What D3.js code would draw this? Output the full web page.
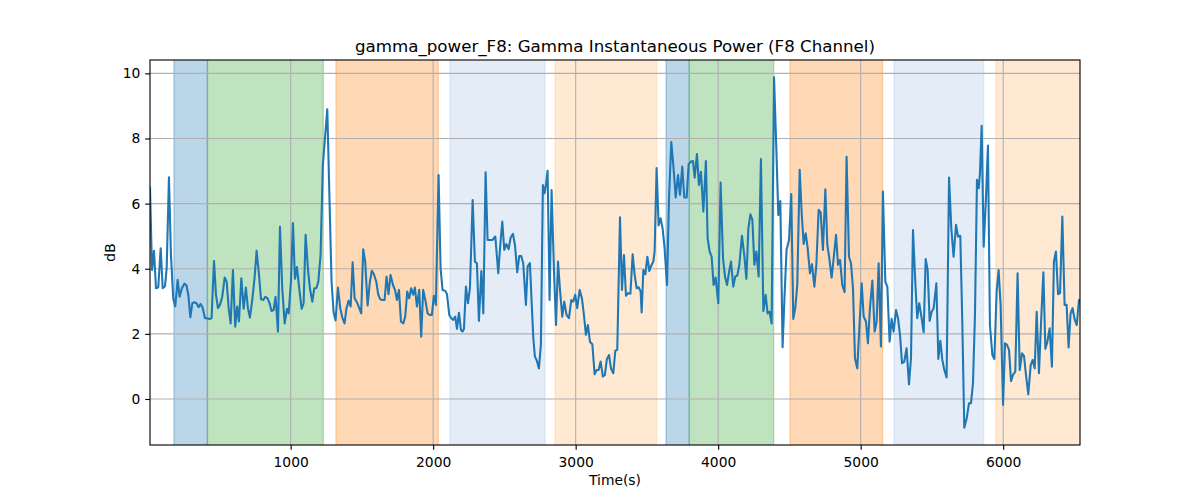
<!DOCTYPE html>
<html><head><meta charset="utf-8">
<script src="https://cdn.jsdelivr.net/npm/d3@7"></script>
<style>body{margin:0;background:#fff} text{font-family:"DejaVu Sans",sans-serif}</style>
</head><body><svg id="c" width="1200" height="500"></svg>
<script>
const times=[13,27,41,55,71,88,102,118,130,146,160,176,190,207,221,237,254,268,282,296,310,324,340,354,368,382,399,413,429,445,462,476,490,504,520,537,551,565,579,595,611,625,637,654,670,686,700,714,731,747,761,778,792,808,822,838,852,866,880,894,911,925,941,958,974,986,1002,1016,1030,1044,1060,1077,1091,1105,1121,
1135,1152,1166,1180,1194,1210,1226,1240,1257,1273,1287,1301,1315,1332,1348,1362,1378,1392,1407,1421,1435,1449,1463,1479,1495,1509,1523,1540,1556,1570,1584,1601,1615,1629,1643,1659,1673,1687,1701,1718,1732,1746,1760,1774,1790,1804,1818,1832,1846,1860,1872,1886,1902,1916,1930,1947,1961,1977,1991,2005,2019,2038,2052,2066,2085,2097,2113,2127,2141,2155,2167,2181,2195,2206,
2216,2230,2244,2258,2277,2293,2307,2321,2338,2352,2368,2382,2399,2415,2436,2457,2471,2485,2499,2513,2529,2544,2560,2574,2590,2604,2618,2632,2651,2663,2679,2693,2703,2714,2728,2742,2756,2770,2782,2791,2803,2817,2831,2848,2862,2876,2890,2906,2920,2936,2953,2969,2983,2997,3011,3028,3044,3058,3072,3086,3100,3117,3133,3147,3161,3175,3191,3205,3219,3234,3248,3264,3278,3292,
3311,3325,3339,3353,3367,3384,3400,3414,3428,3442,3456,3463,3475,3489,3503,3517,3531,3545,3554,3568,3582,3596,3610,3624,3641,3655,3671,3685,3702,3718,3732,3748,3762,3779,3793,3809,3823,3835,3851,3865,3879,3896,3914,3926,3940,3954,3968,3982,4001,4017,4034,4048,4062,4076,4090,4106,4120,4134,4148,4167,4183,4198,4212,4226,4240,4254,4268,4284,4300,4317,4333,4347,4361,4375,4392,4408,4422,4436,
4452,4466,4480,4497,4513,4527,4541,4555,4572,4586,4600,4614,4628,4644,4658,4675,4689,4705,4719,4735,4752,4766,4780,4796,4810,4827,4841,4855,4871,4887,4901,4918,4932,4946,4960,4976,4993,5007,5021,5037,5051,5065,5082,5098,5112,5126,5142,5156,5173,5187,5203,5217,5231,5248,5262,5276,5290,5306,5322,5339,5353,5367,5383,5397,5411,5428,5442,5456,5470,5484,5498,5512,5531,5545,5559,5573,5587,5603,
5620,5636,5652,5669,5683,5699,5713,5727,5744,5760,5774,5788,5802,5816,5828,5837,5849,5863,5879,5893,5907,5924,5938,5954,5968,5982,5999,6013,6027,6041,6055,6069,6085,6101,6116,6132,6146,6160,6176,6193,6207,6221,6235,6251,6267,6282,6296,6310,6326,6342,6356,6370,6385,6399,6415,6431,6445,6459,6473,6487,6501,6516,6532,6539];
const values=[6.5,3.96,4.55,3.40,3.43,4.63,3.40,3.46,4.01,6.81,4.42,3.09,2.84,3.66,3.14,3.40,3.54,3.50,3.20,2.51,2.94,2.97,2.94,2.82,2.92,2.81,2.48,2.48,2.46,2.48,4.24,3.20,2.79,2.89,3.14,3.73,3.60,2.79,2.32,3.96,2.22,2.84,2.38,3.71,2.77,3.42,2.79,2.50,3.06,3.73,4.55,3.81,3.06,3.04,3.14,3.09,2.94,2.70,2.73,3.14,2.07,5.29,3.40,2.32,2.77,2.63,3.60,5.40,3.69,4.05,3.40,2.77,2.94,5.04,4.01,
3.40,2.99,3.40,3.40,3.60,4.42,7.19,7.96,8.90,6.06,3.60,2.68,2.41,3.42,2.79,2.51,2.32,2.79,3.02,2.84,4.20,3.09,2.99,2.82,2.63,4.60,4.22,2.87,3.60,3.94,3.83,3.60,3.20,3.06,3.04,3.04,3.76,3.22,3.81,3.50,3.35,3.04,3.35,2.38,2.32,2.53,3.30,3.09,3.40,3.20,3.42,2.84,3.35,1.91,3.35,2.99,2.63,2.58,2.58,3.17,2.89,6.88,4.01,3.35,3.32,3.22,2.58,2.48,2.43,2.53,2.15,2.65,2.12,2.07,
2.15,3.45,2.94,3.40,6.11,4.22,4.17,2.40,3.93,2.63,6.96,4.88,4.88,4.88,4.99,3.86,4.73,5.45,4.58,4.76,4.60,4.96,5.07,4.73,3.89,4.39,4.39,4.17,2.89,4.07,4.17,2.79,1.86,1.30,1.17,0.94,1.66,6.57,6.32,6.57,7.01,3.04,6.42,3.91,2.27,4.22,3.35,2.53,2.99,2.58,2.48,3.04,2.99,3.20,2.79,3.35,3.09,2.58,1.97,2.27,1.76,1.68,0.76,0.89,0.89,1.15,0.69,0.74,1.23,1.35,0.94,0.79,1.48,1.51,
5.58,3.35,4.42,3.17,3.25,3.23,4.44,3.81,3.40,3.43,3.30,2.66,3.96,3.83,4.37,3.93,4.10,4.22,4.53,7.09,5.33,5.55,5.24,4.63,3.50,6.16,7.89,7.19,6.19,6.88,6.27,7.14,6.19,6.19,7.21,7.29,7.31,6.80,7.52,6.57,6.98,5.76,7.31,4.94,4.53,4.37,3.50,3.73,2.94,6.65,4.32,3.76,3.50,3.89,4.22,3.45,3.76,3.79,4.10,5.01,4.42,3.69,5.24,5.67,5.50,4.12,4.53,3.76,7.37,2.70,3.20,2.63,2.68,2.32,9.88,7.70,5.65,6.08,
1.59,3.20,4.58,4.88,6.29,2.46,2.79,3.50,7.04,5.70,4.76,5.09,4.63,3.86,4.14,3.45,4.12,5.81,5.73,4.58,6.44,4.73,4.32,3.73,4.30,5.04,4.12,4.27,3.50,3.28,7.44,4.37,4.17,3.40,1.25,0.94,2.38,3.55,2.53,2.38,1.71,2.79,3.64,2.07,2.38,4.17,1.61,6.37,3.60,3.45,1.76,2.46,2.07,2.73,2.48,1.97,1.10,1.15,1.56,0.45,1.25,5.19,3.60,2.48,2.94,2.48,2.05,4.30,3.96,2.40,2.68,2.79,3.55,1.23,1.79,1.20,0.89,0.66,
6.80,5.24,4.37,5.35,4.99,5.01,2.38,-0.88,-0.59,-0.13,-0.13,0.48,2.58,6.73,6.47,6.93,8.39,4.68,6.16,7.78,2.27,1.35,1.23,3.30,3.96,2.89,-0.18,1.71,1.66,1.51,0.55,0.74,0.84,3.86,0.89,1.40,1.32,0.74,0.14,1.04,1.20,0.94,2.68,0.79,2.48,3.89,1.54,1.76,2.17,0.99,4.22,4.53,3.22,3.25,5.60,2.89,2.89,1.58,2.63,2.79,2.45,2.27,3.04,3.04];

const bandStarts=[181,416,1318,2118,2855,3634,3797,4504,5234,5949];
const bandEnds=[416,1229,2036,2785,3568,3797,4389,5154,5863,6600];
const bandKinds=["blue","green","orange","lightblue","peach","blue","green","orange","lightblue","peach"];
const xTicks=[1000,2000,3000,4000,5000,6000];
const yTicks=[0,2,4,6,8,10];
const xDomain=[13,6539];
const yDomain=[-1.413,10.41];

const kindStyle={
  blue:{c:"#1f77b4",a:0.3}, green:{c:"#2ca02c",a:0.3}, orange:{c:"#ff7f0e",a:0.3},
  lightblue:{c:"#aec7e8",a:0.33}, peach:{c:"#ffbb78",a:0.33}
};

const L=150,R=1080,T=60,B=445;
const svg=d3.select("#c");
const x=d3.scaleLinear().domain(xDomain).range([L,R]);
const y=d3.scaleLinear().domain(yDomain).range([B,T]);
const pt=100/72;

svg.append("defs").append("clipPath").attr("id","clip")
  .append("rect").attr("x",L).attr("y",T).attr("width",R-L).attr("height",B-T);

const plot=svg.append("g").attr("clip-path","url(#clip)");
const bands=d3.range(bandStarts.length).map(i=>({s:bandStarts[i],e:bandEnds[i],k:bandKinds[i]}));
plot.selectAll("rect.band").data(bands).join("rect").attr("class","band")
  .attr("x",d=>x(d.s)).attr("width",d=>x(d.e)-x(d.s))
  .attr("y",T-5).attr("height",B-T+10)
  .attr("fill",d=>kindStyle[d.k].c).attr("fill-opacity",d=>kindStyle[d.k].a)
  .attr("stroke",d=>kindStyle[d.k].c).attr("stroke-opacity",d=>kindStyle[d.k].a).attr("stroke-width",pt);

// grid
plot.selectAll("line.gx").data(xTicks).join("line")
  .attr("x1",d=>x(d)).attr("x2",d=>x(d)).attr("y1",T).attr("y2",B)
  .attr("stroke","#b0b0b0").attr("stroke-width",0.8*pt);
plot.selectAll("line.gy").data(yTicks).join("line")
  .attr("y1",d=>y(d)).attr("y2",d=>y(d)).attr("x1",L).attr("x2",R)
  .attr("stroke","#b0b0b0").attr("stroke-width",0.8*pt);

const pts=d3.zip(times,values);
plot.append("path").datum(pts)
  .attr("d",d3.line().x(d=>x(d[0])).y(d=>y(d[1])))
  .attr("fill","none").attr("stroke","#1f77b4").attr("stroke-width",1.5*pt)
  .attr("stroke-linejoin","round").attr("stroke-linecap","square");

// axes
const fs=10*pt;
const xa=svg.append("g").attr("transform",`translate(0,${B})`)
  .call(d3.axisBottom(x).tickValues(xTicks).tickSize(3.5*pt).tickPadding(3.5*pt+2).tickFormat(d3.format("d")));
const ya=svg.append("g").attr("transform",`translate(${L},0)`)
  .call(d3.axisLeft(y).tickValues(yTicks).tickSize(3.5*pt).tickPadding(3.5*pt).tickFormat(d3.format("d")));
[xa,ya].forEach(g=>{
  g.select(".domain").remove();
  g.selectAll(".tick line").attr("stroke","#000").attr("stroke-width",0.8*pt);
  g.selectAll(".tick text").attr("fill","#000").attr("font-size",fs).attr("font-family","DejaVu Sans");
});
svg.append("rect").attr("x",L).attr("y",T).attr("width",R-L).attr("height",B-T)
  .attr("fill","none").attr("stroke","#000").attr("stroke-width",0.8*pt);

svg.append("text").attr("x",(L+R)/2).attr("y",52).attr("text-anchor","middle")
  .attr("font-size",12*pt).attr("fill","#000").text("gamma_power_F8: Gamma Instantaneous Power (F8 Channel)");
svg.append("text").attr("x",(L+R)/2).attr("y",485).attr("text-anchor","middle")
  .attr("font-size",fs).attr("fill","#000").text("Time(s)");
svg.append("text").attr("transform",`translate(115,${(T+B)/2}) rotate(-90)`).attr("text-anchor","middle")
  .attr("font-size",fs).attr("fill","#000").text("dB");
</script></body></html>
